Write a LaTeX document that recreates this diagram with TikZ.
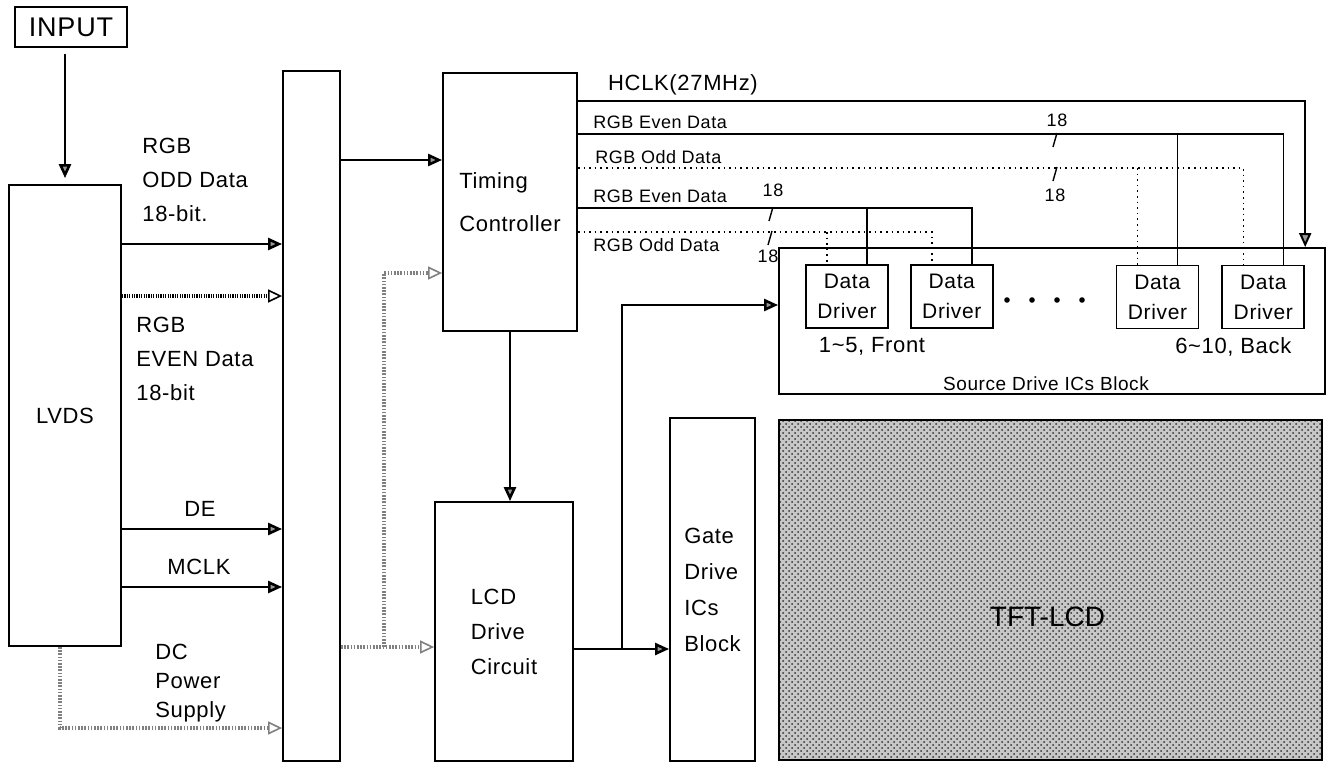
\documentclass[tikz,border=0pt]{standalone}
\usepackage{fontspec}
\setmainfont{Liberation Sans}[LetterSpace=3]
\usetikzlibrary{positioning,arrows.meta,calc,patterns}

\begin{document}
\begin{tikzpicture}[
  x=0.5pt, y=-0.5pt,
  font=\fontsize{11}{17}\selectfont,
  >={Triangle[length=7pt,width=6pt,fill=black!40]},
  box/.style={draw, line width=0.9pt, align=left, inner sep=0pt},
  drv/.style={box, minimum width=41pt, minimum height=31.5pt, align=center, font=\fontsize{10.5}{15}\selectfont},
  arr/.style={->, line width=1.3pt},
  bus/.style={line width=0.8pt},
  oddbus/.style={line width=0.8pt, dotted},
  pwr/.style={-{Triangle[open,line width=0.8pt,length=7pt,width=6.5pt]}, draw=black!50, line width=2.4pt, dash pattern=on 0.8pt off 0.8pt},
  evn/.style={-{Triangle[open,line width=0.8pt,length=7pt,width=6.5pt]}, line width=1.6pt, dash pattern=on 0.6pt off 0.6pt},
  lbl/.style={align=left, inner sep=0pt},
  blbl/.style={font=\fontsize{9}{11}\selectfont, inner sep=0pt},
]
\useasboundingbox (0,0) rectangle (1329,766);

% ============ BLOCKS ============
\node[box, minimum width=56pt, minimum height=20pt, align=center, font=\fontsize{13.5}{16}\selectfont] (input) at (71,27) {INPUT};
\node[box, minimum width=56pt, minimum height=230.5pt, align=center] (lvds) at (65,415.5) {LVDS};
\node[box, minimum width=28.5pt, minimum height=345pt] (bar) at (311.5,416) {};
\node[box, minimum width=67pt, minimum height=129pt, font=\fontsize{11}{21.5}\selectfont] (tc) at (510,202) {Timing\\Controller};
\node[box, minimum width=69pt, minimum height=129.5pt, font=\fontsize{11}{17.5}\selectfont] (lcd) at (504,631.5) {LCD\\Drive\\Circuit};
\node[box, minimum width=42.5pt, minimum height=171.5pt, font=\fontsize{11}{18}\selectfont] (gate) at (712.5,589.5) {Gate\\Drive\\ICs\\Block};
\node[box, minimum width=273pt, minimum height=73pt] (src) at (1052,321) {};
\node[blbl, font=\fontsize{9.5}{12}\selectfont, above=2pt of src.south, xshift=-3pt] {Source Drive ICs Block};
\node[box, minimum width=271.5pt, minimum height=170pt, preaction={fill=black!22},
      pattern=crosshatch dots, pattern color=black!80] (tft) at (1050.5,590) {};
\node[font=\fontsize{14}{16}\selectfont\addfontfeature{LetterSpace=0}] at ($(tft.center)+(-3,27)$) {TFT-LCD};

% data drivers inside the source block
\node[drv] (d1) at (847,296.5) {Data\\Driver};
\node[drv, right=10.5pt of d1] (d2) {Data\\Driver};
\node[drv] (d3) at (1157.5,297) {Data\\Driver};
\node[drv, right=11pt of d3] (d4) {Data\\Driver};
\node[lbl, below=4pt of d1.south, xshift=12.5pt] {1\textasciitilde 5, Front};
\node[lbl, below=4pt of d4.south, xshift=-15pt] {6\textasciitilde 10, Back};
\foreach \x in {1007,1032,1057,1082} \fill (\x,300) circle (1.4pt);
\foreach \d in {d1,d2,d3,d4} {
  \coordinate (\d e) at ($(\d.north)+(20,0)$);
  \coordinate (\d o) at ($(\d.north)+(-20,0)$);
}

% ============ LEVELS ============
\coordinate (yodd) at (0,244);
\coordinate (yevn) at (0,296);
\coordinate (yde) at (0,529);
\coordinate (ymclk) at (0,587);
\coordinate (ypwr) at (0,728);
\coordinate (ytc) at (0,160);
\coordinate (ylcd) at (0,647);
\coordinate (ybr) at (0,273);
\coordinate (ygate) at (0,649);
\coordinate (ysrc) at (0,305);
\coordinate (xbr) at (384,0);
\coordinate (xjn) at (622,0);
\coordinate (yh) at (0,101);
\coordinate (ye1) at (0,134);
\coordinate (yo1) at (0,168);
\coordinate (ye2) at (0,208);
\coordinate (yo2) at (0,232);

% ============ LVDS -> BUFFER ============
\draw[arr, shorten <=3pt, shorten >=3pt] (lvds.north |- input.south) -- (lvds.north);
\draw[arr] (lvds.east |- yodd) -- (bar.west |- yodd);
\draw[evn] (lvds.east |- yevn) -- (bar.west |- yevn);
\draw[arr] (lvds.east |- yde) -- (bar.west |- yde);
\draw[arr] (lvds.east |- ymclk) -- (bar.west |- ymclk);
\draw[pwr] ($(lvds.south)+(-5,0)$) |- (bar.west |- ypwr);
\node[lbl, anchor=north west] at (142,138) {RGB\\ODD Data\\18-bit.};
\node[lbl, anchor=north west] at (136,317) {RGB\\EVEN Data\\18-bit};
\node[lbl] at (200,509) {DE};
\node[lbl] at (199,567) {MCLK};
\node[lbl, anchor=north west, font=\fontsize{11}{14.5}\selectfont] at (155,644) {DC\\Power\\Supply};

% ============ BUFFER -> TIMING / LCD DRIVE ============
\draw[arr] (bar.east |- ytc) -- (tc.west |- ytc);
\draw[pwr] (bar.east |- ylcd) -- (lcd.west |- ylcd);
\draw[pwr] (xbr |- ylcd) |- (tc.west |- ybr);
\draw[arr] (tc.south) -- (tc.south |- lcd.north);
\draw[arr] (lcd.east |- ygate) -- (gate.west |- ygate);
\draw[arr] (xjn |- ygate) |- (src.west |- ysrc);

% ============ TIMING -> SOURCE DRIVERS ============
\draw[->, line width=1pt] (tc.east |- yh) -| (d4.east |- src.north);
\draw[bus] (tc.east |- ye1) -| (d4e);
\draw[bus] (d3e |- ye1) -- (d3e);
\draw[oddbus] (tc.east |- yo1) -| (d4o);
\draw[oddbus] (d3o |- yo1) -- (d3o);
\draw[bus] (tc.east |- ye2) -| (d2e);
\draw[bus] (d1e |- ye2) -- (d1e);
\draw[oddbus] (tc.east |- yo2) -| (d2o);
\draw[oddbus] (d1o |- yo2) -- (d1o);
\node[font=\fontsize{11}{13}\selectfont] at (683,85) {HCLK(27MHz)};
\node[blbl, anchor=west] at (593,122) {RGB Even Data};
\node[blbl, anchor=west] at (595,157) {RGB Odd Data};
\node[blbl, anchor=west] at (593,196) {RGB Even Data};
\node[blbl, anchor=west] at (593,245) {RGB Odd Data};
% bus width marks
\foreach \x/\y in {1055/134, 1055/168, 771/208, 770/232}
  \draw[line width=0.7pt] (\x-2,\y+13) -- (\x+2,\y-1);
\node[blbl] at (1057,120) {18};
\node[blbl] at (1055,195) {18};
\node[blbl] at (773,190) {18};
\node[blbl] at (768,256) {18};

\end{tikzpicture}
\end{document}
